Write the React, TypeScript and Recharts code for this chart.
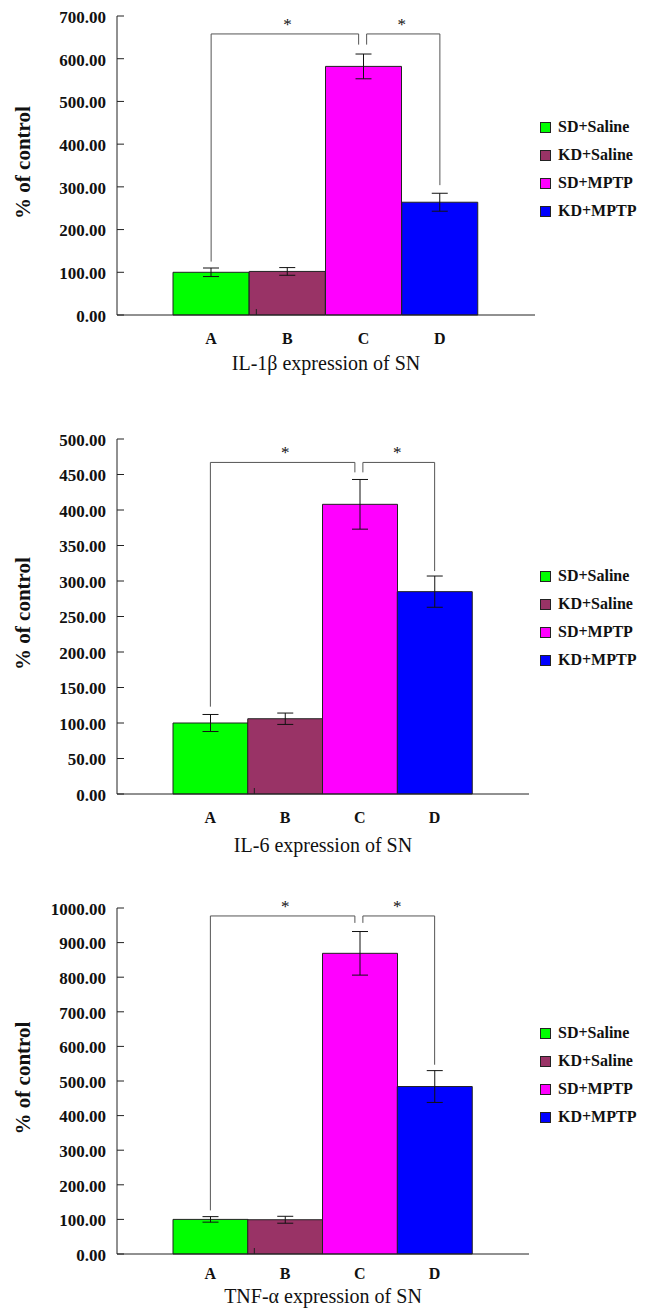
import { BarChart, Bar, XAxis, YAxis, Cell, ErrorBar, Legend, ReferenceLine } from 'recharts';

// groups, shared by all three panels
const letters = ['A', 'B', 'C', 'D'];
const groups = ['SD+Saline', 'KD+Saline', 'SD+MPTP', 'KD+MPTP'];
const colors = ['#00ff00', '#993366', '#ff00ff', '#0000ff'];

// IL-1beta
const il1bMeans = [100, 102, 582, 264];
const il1bErrors = [10, 9, 29, 21];
const il1bTicks = [0, 100, 200, 300, 400, 500, 600, 700];
const il1bBrackets = [
  { from: 'A', to: 'C', top: 658, fromBase: 125, toBase: 633 },
  { from: 'C', to: 'D', top: 658, fromBase: 633, toBase: 304 },
];

// IL-6
const il6Means = [100, 106, 408, 285];
const il6Errors = [12, 8, 35, 22];
const il6Ticks = [0, 50, 100, 150, 200, 250, 300, 350, 400, 450, 500];
const il6Brackets = [
  { from: 'A', to: 'C', top: 467, fromBase: 123, toBase: 453 },
  { from: 'C', to: 'D', top: 467, fromBase: 453, toBase: 314 },
];

// TNF-alpha
const tnfMeans = [100, 99, 869, 484];
const tnfErrors = [8, 10, 63, 46];
const tnfTicks = [0, 100, 200, 300, 400, 500, 600, 700, 800, 900, 1000];
const tnfBrackets = [
  { from: 'A', to: 'C', top: 977, fromBase: 126, toBase: 957 },
  { from: 'C', to: 'D', top: 977, fromBase: 957, toBase: 547 },
];

const FONT = '"Liberation Serif", "Times New Roman", serif';
const AXIS = '#222';
const BRACKET = '#555';

const ValueTick = (props: any) => {
  const { x, y, payload } = props;
  return (
    <g>
      <line x1={x} y1={y} x2={x + 7} y2={y} stroke={AXIS} />
      <text x={x - 11} y={y} dy="0.4em" textAnchor="end" fontFamily={FONT} fontWeight="bold" fontSize={17} fill="#111">
        {Number(payload.value).toFixed(2)}
      </text>
    </g>
  );
};

const LetterTick = (props: any) => {
  const { x, y, payload, off } = props;
  return (
    <text x={x} y={y + off} textAnchor="middle" fontFamily={FONT} fontWeight="bold" fontSize={16} fill="#111">
      {payload.value}
    </text>
  );
};

const LegendBox = () => (
  <div style={{ fontFamily: FONT, fontWeight: 'bold', fontSize: 16, color: '#111' }}>
    {groups.map((g, i) => (
      <div key={g} style={{ height: 28, display: 'flex', alignItems: 'center', whiteSpace: 'nowrap' }}>
        <span style={{ display: 'inline-block', width: 9, height: 9, background: colors[i], border: '1px solid #222', marginRight: 7 }} />
        {g}
      </div>
    ))}
  </div>
);

const shifted = (d1: number, d2: number) => (p: any) => (
  <line x1={p.x1 + d1} y1={p.y1} x2={p.x2 + d2} y2={p.y2} stroke={BRACKET} strokeWidth={1} />
);

function Panel({ title, means, errors, ticks, brackets, height, top, bottom, right, letterOff, titleOff, legendTop }: any) {
  const data = letters.map((l, i) => ({ letter: l, value: means[i], err: errors[i] }));
  const yMax = ticks[ticks.length - 1];
  return (
    <div style={{ width: 645, height }}>
      <BarChart width={645} height={height} data={data} margin={{ top, right, bottom: 0, left: 0 }} barCategoryGap={0}>
        <XAxis
          dataKey="letter"
          height={height - bottom}
          padding={{ left: 56, right: 57 }}
          tickLine={false}
          tickSize={0}
          tickMargin={0}
          interval={0}
          axisLine={{ stroke: AXIS }}
          tick={<LetterTick off={letterOff} />}
          label={(p: any) => {
            const vb = p.viewBox;
            return (
              <text x={vb.x + vb.width / 2} y={vb.y + titleOff} textAnchor="middle" fontFamily={FONT} fontSize={20} fill="#111">
                {title}
              </text>
            );
          }}
        />
        <XAxis xAxisId="edge" type="number" domain={[0, 1]} hide />
        <YAxis
          width={117}
          domain={[0, yMax]}
          ticks={ticks}
          interval={0}
          tickLine={false}
          tickSize={0}
          tickMargin={0}
          axisLine={{ stroke: AXIS }}
          tick={<ValueTick />}
          label={(p: any) => {
            const vb = p.viewBox;
            const cx = vb.x + 30;
            const cy = vb.y + vb.height / 2 - 3;
            return (
              <text x={cx} y={cy} transform={`rotate(-90 ${cx} ${cy})`} textAnchor="middle" fontFamily={FONT} fontWeight="bold" fontSize={21} fill="#111">
                % of control
              </text>
            );
          }}
        />
        <Legend
          layout="vertical"
          align="center"
          verticalAlign="middle"
          content={<LegendBox />}
          wrapperStyle={{ left: 540, top: legendTop, width: 105, height: 112 }}
        />
        <Bar dataKey="value" stroke="#222" strokeWidth={1} isAnimationActive={false}>
          {data.map((d, i) => (
            <Cell key={d.letter} fill={colors[i]} />
          ))}
          <ErrorBar dataKey="err" width={8} stroke="#111" strokeWidth={1} />
        </Bar>
        {brackets.map((b: any, i: number) => {
          const dl = i === 0 ? 0 : 3;
          const dr = i === 0 ? -5 : 0;
          return [
            <ReferenceLine key={`l${i}`} segment={[{ x: b.from, y: b.fromBase }, { x: b.from, y: b.top }]} shape={shifted(dl, dl)} />,
            <ReferenceLine
              key={`h${i}`}
              segment={[{ x: b.from, y: b.top }, { x: b.to, y: b.top }]}
              shape={shifted(dl, dr)}
              label={{ value: '*', position: 'top', offset: 4, fill: '#111', fontSize: 17, fontFamily: FONT }}
            />,
            <ReferenceLine key={`r${i}`} segment={[{ x: b.to, y: b.top }, { x: b.to, y: b.toBase }]} shape={shifted(dr, dr)} />,
          ];
        })}
        <ReferenceLine
          xAxisId="edge"
          x={1}
          shape={(p: any) => {
            const yb = Math.max(p.y1, p.y2);
            return <line x1={p.x1} y1={yb} x2={p.x1} y2={yb - 6} stroke={AXIS} />;
          }}
        />
      </BarChart>
    </div>
  );
}

export default function App() {
  return (
    <div style={{ position: 'absolute', left: 0, top: 0, width: 645, height: 1309, background: '#fff' }}>
      <Panel
        title="IL-1β expression of SN"
        means={il1bMeans}
        errors={il1bErrors}
        ticks={il1bTicks}
        brackets={il1bBrackets}
        height={400}
        top={16}
        bottom={315}
        right={110}
        letterOff={29}
        titleOff={55}
        legendTop={113}
      />
      <Panel
        title="IL-6 expression of SN"
        means={il6Means}
        errors={il6Errors}
        ticks={il6Ticks}
        brackets={il6Brackets}
        height={460}
        top={39}
        bottom={394}
        right={116}
        letterOff={29}
        titleOff={58}
        legendTop={162}
      />
      <Panel
        title="TNF-α expression of SN"
        means={tnfMeans}
        errors={tnfErrors}
        ticks={tnfTicks}
        brackets={tnfBrackets}
        height={449}
        top={48}
        bottom={394}
        right={116}
        letterOff={25}
        titleOff={49}
        legendTop={159}
      />
    </div>
  );
}
